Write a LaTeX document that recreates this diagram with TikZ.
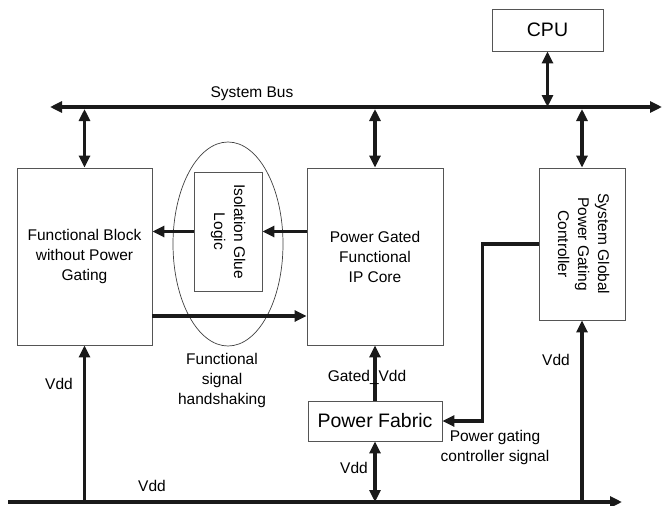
\documentclass[tikz,border=0pt]{standalone}
\usepackage{fontspec}
\setmainfont{Liberation Sans}
\usepackage{graphicx}
\usetikzlibrary{arrows.meta,calc}
\definecolor{boxGray}{HTML}{555555}
\definecolor{wireDark}{HTML}{1A1A1A}

\begin{document}
\begin{tikzpicture}[x=1pt, y=-1pt,
  >={Triangle[length=12pt,width=11pt]},
  blockBox/.style={rectangle, draw=boxGray, line width=0.9pt, inner sep=0pt, align=center, font=\fontsize{15.5}{20}\selectfont},
  bigBox/.style  ={blockBox, font=\fontsize{19.5}{23}\selectfont},
  busW/.style    ={line width=4pt, color=wireDark},
  sigW/.style    ={line width=3.2pt, color=wireDark},
  lbl/.style     ={align=center, inner sep=0pt, font=\fontsize{15.5}{20}\selectfont},
]
% canvas in pixel units, y pointing down
\useasboundingbox (0,0) rectangle (662,506);
\def\busY{107}
\def\vddY{502}
% isolation glue area
\draw[black!75, line width=0.7pt] (228,244) ellipse [x radius=55, y radius=102];
% blocks
\node[bigBox, minimum width=111pt, minimum height=42pt] (cpu) at (547.5,30) {CPU};
\node[blockBox, minimum width=135pt, minimum height=177pt] (fblock) at (84.5,256.5) {Functional Block\\without Power\\Gating};
\node[blockBox, minimum width=136pt, minimum height=177pt] (ipcore) at (375,256.5) {Power Gated\\Functional\\IP Core};
\node[blockBox, minimum width=68pt, minimum height=119pt] (iso) at (228,231.5)
  {\rotatebox{-90}{\begin{tabular}{@{}c@{}}Isolation Glue\\Logic\end{tabular}}};
\node[blockBox, minimum width=86pt, minimum height=152pt] (ctrl) at (582,244)
  {\rotatebox{-90}{\begin{tabular}{@{}c@{}}System Global\\Power Gating\\Controller\end{tabular}}};
\node[bigBox, minimum width=134pt, minimum height=40pt] (fabric) at (375,421) {Power Fabric};
% system bus
\coordinate (sysL) at (50,\busY);
\coordinate (sysR) at (662,\busY);
\draw[busW, <->] (sysL) -- (sysR);
\draw[sigW, <->] (cpu.south) -- (cpu.south |- sysL);
\draw[sigW, <->, shorten <=2pt] (fblock.north |- sysL) -- (fblock.north);
\draw[sigW, <->, shorten <=2pt] (ipcore.north |- sysL) -- (ipcore.north);
\draw[sigW, <->, shorten <=2pt] (ctrl.north |- sysL) -- (ctrl.north);
% functional signals
\coordinate (hsRow) at (0,316);
\draw[sigW, ->] (ipcore.west |- iso.east) -- (iso.east);
\draw[sigW, ->] (iso.west) -- (fblock.east |- iso.west);
\draw[sigW, ->] (fblock.east |- hsRow) -- (ipcore.west |- hsRow);
% power gating control and supply
\draw[sigW, ->] (ctrl.west) -- ++(-56,0) |- (fabric.east);
\draw[sigW, ->] (fabric.north) -- (ipcore.south);
\coordinate (vddL) at (8,\vddY);
\coordinate (vddR) at (622,\vddY);
\draw[busW, ->] (vddL) -- (vddR);
\draw[sigW, <->] (fabric.south) -- (fabric.south |- vddL);
\draw[sigW, ->] (fblock.south |- vddL) -- (fblock.south);
\draw[sigW, ->] (ctrl.south |- vddL) -- (ctrl.south);
% labels
\node[lbl] (busLbl)   at (252,94)  {System Bus};
\node[lbl] (hsLbl)    at (222,380) {Functional\\signal\\handshaking};
\node[lbl] (gatedLbl) at (367,377) {Gated\_Vdd};
\node[lbl] (pgLbl)    at (495,447) {Power gating\\controller signal};
\node[lbl] (vddA)     at (59,384)  {Vdd};
\node[lbl] (vddB)     at (556,360) {Vdd};
\node[lbl] (vddC)     at (354,468) {Vdd};
\node[lbl] (vddD)     at (152,486) {Vdd};
\end{tikzpicture}
\end{document}
